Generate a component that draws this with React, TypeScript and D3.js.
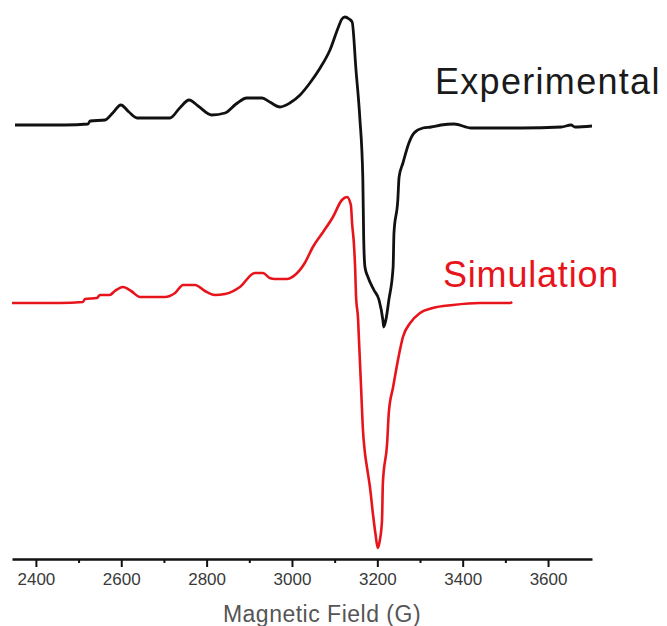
import React, { useEffect, useRef } from "react";
import * as d3 from "d3";

// magnetic field (G) and intensity (a.u.)
const expField = [
  2351, 2409, 2468, 2522, 2527, 2562, 2580, 2599, 2618, 2637, 2714, 2737, 2759,
  2780, 2812, 2843, 2869, 2894, 2930, 2948, 2972, 2995, 3019, 3042, 3066, 3089,
  3108, 3117, 3124, 3134, 3141, 3150, 3159, 3166, 3168, 3171, 3178, 3192, 3204,
  3213, 3215, 3220, 3227, 3237, 3239, 3248, 3251, 3260, 3274, 3286, 3307, 3326,
  3349, 3380, 3420, 3537, 3631, 3654, 3663, 3703,
];
const expIntensity = [
  0, 0, 0, 1, 4, 5, 12, 20, 13, 7, 7, 17, 25, 19, 10, 12, 21, 27, 27, 23, 18,
  22, 30, 42, 57, 75, 97, 106, 108, 106, 103, 55, 7, -53, -112, -142, -152,
  -165, -175, -195, -202, -195, -175, -142, -108, -75, -52, -38, -18, -8, -3,
  -2, 0, 1, -3, -3, -2, 0, -2, -1,
];

const simField = [
  2344, 2456, 2510, 2515, 2543, 2550, 2573, 2585, 2604, 2623, 2644, 2702, 2726,
  2745, 2773, 2796, 2819, 2843, 2878, 2913, 2932, 2948, 2960, 2988, 3007, 3030,
  3049, 3073, 3096, 3117, 3129, 3138, 3141, 3145, 3148, 3150, 3155, 3157, 3162,
  3166, 3171, 3176, 3183, 3190, 3196, 3201, 3206, 3211, 3213, 3223, 3227, 3237,
  3244, 3253, 3260, 3277, 3300, 3330, 3377, 3441, 3511, 3516,
];
const simIntensity = [
  0, 0, 1, 4, 5, 8, 8, 12, 16, 12, 6, 6, 10, 18, 18, 12, 8, 9, 16, 30, 30, 25,
  24, 24, 28, 40, 56, 71, 86, 103, 106, 98, 79, 60, 35, 8, -17, -37, -85,
  -125, -150, -165, -185, -212, -232, -245, -237, -217, -180, -140, -109, -84,
  -67, -47, -34, -20, -10, -5, -2, 0, 0, 1,
];

const majorTicks = [2400, 2600, 2800, 3000, 3200, 3400, 3600];
const minorTicks = [2500, 2700, 2900, 3100, 3300, 3500];

const EXP_OFFSET = 0;
const SIM_OFFSET = -178;

const FONT = "'Liberation Sans', Arial, sans-serif";

export default function App() {
  const ref = useRef<SVGSVGElement | null>(null);

  useEffect(() => {
    if (!ref.current) return;
    const svg = d3.select(ref.current);
    svg.selectAll("*").remove();

    const axisY = 559;

    const x = d3.scaleLinear().domain([2344, 3703]).range([12, 592]);
    const y = d3.scaleLinear().domain([-430, 120]).range([555, 5]);

    const line = d3
      .line<[number, number]>()
      .x((d) => x(d[0]))
      .y((d) => y(d[1]))
      .curve(d3.curveMonotoneX);

    const expData: [number, number][] = expField.map((f, i) => [
      f,
      expIntensity[i] + EXP_OFFSET,
    ]);
    const simData: [number, number][] = simField.map((f, i) => [
      f,
      simIntensity[i] + SIM_OFFSET,
    ]);

    svg
      .append("path")
      .datum(simData)
      .attr("d", line)
      .attr("fill", "none")
      .attr("stroke", "#e8141c")
      .attr("stroke-width", 2.6)
      .attr("stroke-linejoin", "round");

    svg
      .append("path")
      .datum(expData)
      .attr("d", line)
      .attr("fill", "none")
      .attr("stroke", "#111")
      .attr("stroke-width", 2.8)
      .attr("stroke-linejoin", "round");

    // minor ticks first, then the major axis with labels
    svg
      .append("g")
      .attr("transform", `translate(0,${axisY})`)
      .call(
        d3
          .axisBottom(x)
          .tickValues(minorTicks)
          .tickSize(4)
          .tickSizeOuter(0)
          .tickFormat(() => "")
      )
      .call((g) => g.select(".domain").remove())
      .call((g) => g.selectAll("line").attr("stroke", "#111").attr("stroke-width", 2));

    const ax = svg
      .append("g")
      .attr("transform", `translate(0,${axisY})`)
      .call(
        d3
          .axisBottom(x)
          .tickValues(majorTicks)
          .tickSize(8)
          .tickSizeOuter(0)
          .tickPadding(6)
          .tickFormat(d3.format("d"))
      );
    ax.select(".domain").attr("stroke", "#111").attr("stroke-width", 2.5);
    ax.selectAll("line").attr("stroke", "#111").attr("stroke-width", 2);
    ax.selectAll("text")
      .attr("fill", "#3a3a3a")
      .style("font-family", FONT)
      .style("font-size", "17px");

    svg
      .append("text")
      .attr("x", 322)
      .attr("y", 622)
      .attr("text-anchor", "middle")
      .attr("fill", "#555")
      .style("font-family", FONT)
      .style("font-size", "23px")
      .style("letter-spacing", "0.5px")
      .text("Magnetic Field  (G)");

    svg
      .append("text")
      .attr("x", 435)
      .attr("y", 94)
      .attr("fill", "#1a1a1a")
      .style("font-family", FONT)
      .style("font-size", "36px")
      .style("letter-spacing", "1.3px")
      .text("Experimental");

    svg
      .append("text")
      .attr("x", 443)
      .attr("y", 287)
      .attr("fill", "#e8141c")
      .style("font-family", FONT)
      .style("font-size", "36px")
      .style("letter-spacing", "0.8px")
      .text("Simulation");
  }, []);

  return (
    <svg
      ref={ref}
      width={667}
      height={626}
      style={{ position: "absolute", left: 0, top: 0, background: "#fff" }}
    />
  );
}
